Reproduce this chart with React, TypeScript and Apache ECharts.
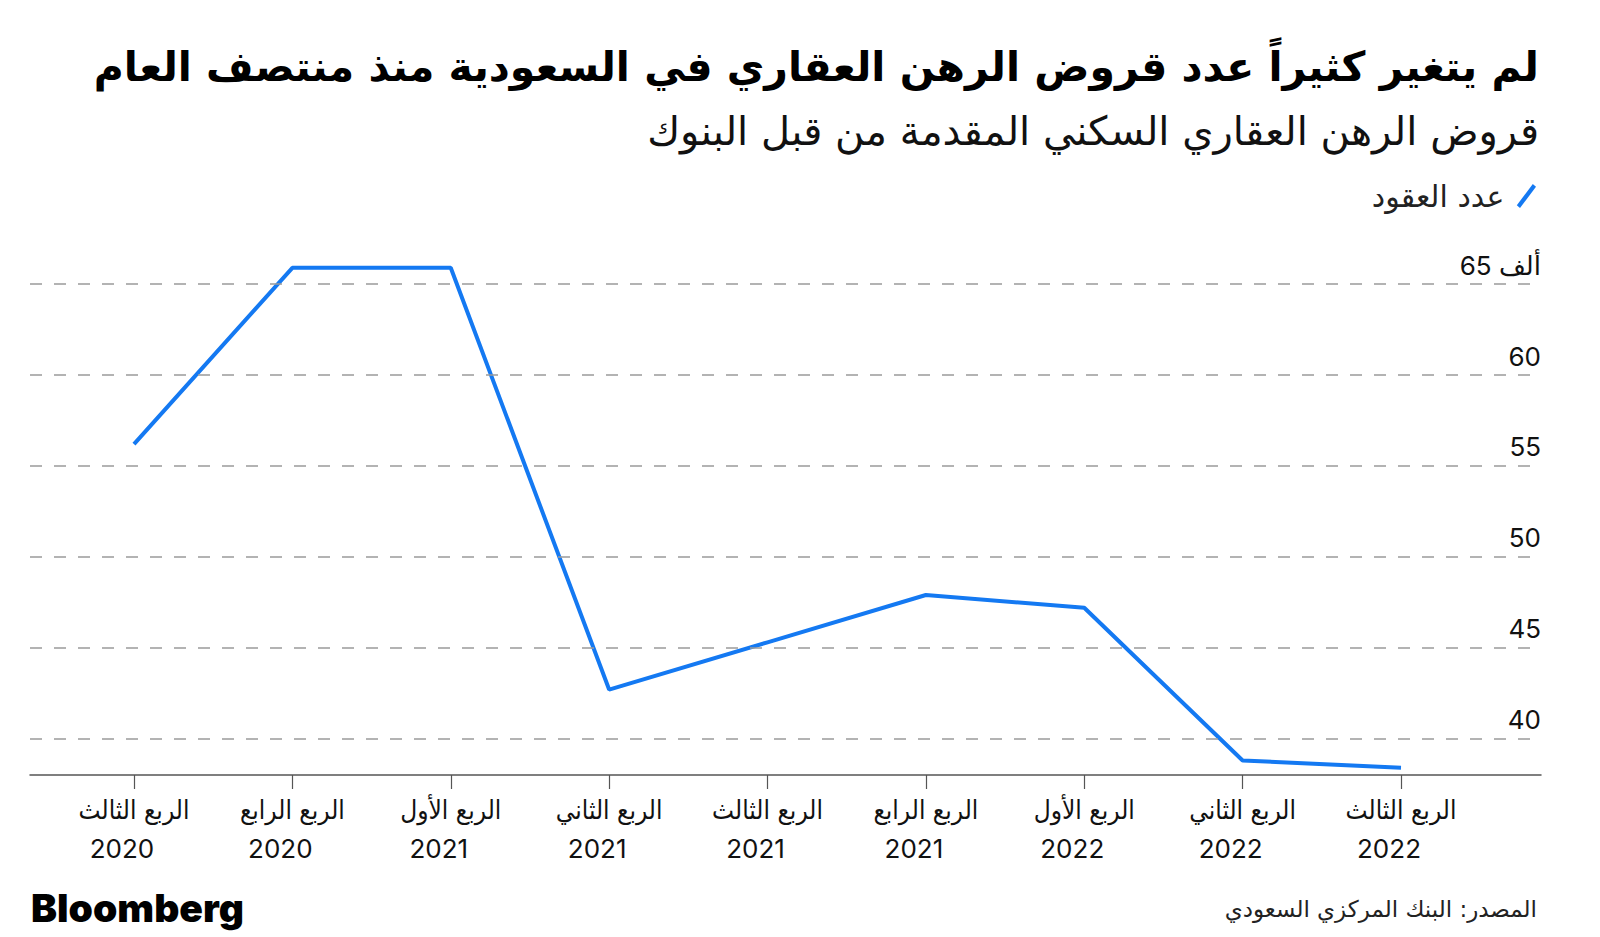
import React, { useEffect, useRef } from 'react';
import * as echarts from 'echarts';

const titleText = 'لم يتغير كثيراً عدد قروض الرهن العقاري في السعودية منذ منتصف العام';
const subtitleText = 'قروض الرهن العقاري السكني المقدمة من قبل البنوك';
const seriesName = 'عدد العقود';
const sourceText = 'المصدر: البنك المركزي السعودي';
const quarters = ['الربع الثالث', 'الربع الرابع', 'الربع الأول', 'الربع الثاني', 'الربع الثالث', 'الربع الرابع', 'الربع الأول', 'الربع الثاني', 'الربع الثالث'];
const years = ['2020', '2020', '2021', '2021', '2021', '2021', '2022', '2022', '2022'];
const contracts = [56.2, 65.9, 65.9, 42.7, 45.3, 47.9, 47.2, 38.8, 38.4];
const yTicks = [40, 45, 50, 55, 60, 65];
const topTickUnit = 'ألف';

const AR = "Inter, 'DejaVu Sans', sans-serif";
const AR_SANS = "'DejaVu Sans', sans-serif";
const AR_COND = "'DejaVu Sans Condensed', 'DejaVu Sans', sans-serif";

export default function App() {
  const ref = useRef<HTMLDivElement>(null);
  useEffect(() => {
    document.body.style.margin = '0';
    const chart = echarts.init(ref.current!, undefined, { renderer: 'svg' });
    const categories = quarters.map((q, i) => q + '|' + years[i]);
    const gridTop = 266;
    const gridBottom = 162;
    chart.setOption({
      animation: false,
      backgroundColor: '#ffffff',
      title: [
        {
          text: titleText,
          right: 56,
          top: 41,
          textStyle: { fontFamily: AR_SANS, fontSize: 41, fontWeight: 'bold', color: '#000' },
        },
        {
          text: subtitleText,
          right: 56,
          top: 106,
          textStyle: { fontFamily: AR_SANS, fontSize: 40, fontWeight: 'normal', color: '#111' },
        },
        {
          text: sourceText,
          right: 58,
          top: 892,
          textStyle: { fontFamily: AR_SANS, fontSize: 23, fontWeight: 'normal', color: '#222' },
        },
        {
          text: 'Bloomberg',
          left: 26,
          top: 883,
          textStyle: { fontFamily: 'Inter, sans-serif', fontSize: 39, fontWeight: 900, color: '#000', letterSpacing: -1.5 },
        },
      ],
      legend: {
        right: 59,
        top: 176,
        align: 'right',
        icon: 'path://M0,20 L15,0 L18,2.5 L3,22.5 Z',
        itemWidth: 20,
        itemHeight: 24,
        itemGap: 10,
        textStyle: { fontFamily: AR_SANS, fontSize: 30, color: '#222', padding: [0, 7, 0, 0] },
        data: [seriesName],
      },
      grid: [
        { left: 30, right: 59, top: gridTop, bottom: gridBottom },
        { left: 134, right: 199, top: gridTop, bottom: gridBottom },
      ],
      xAxis: [
        {
          gridIndex: 0,
          type: 'value',
          min: 0,
          max: 1,
          axisLine: { show: true, onZero: false, lineStyle: { color: '#555', width: 1.5 } },
          axisTick: { show: false },
          axisLabel: { show: false },
          splitLine: { show: false },
        },
        {
          gridIndex: 1,
          type: 'category',
          data: categories,
          boundaryGap: false,
          axisLine: { show: false },
          axisTick: { show: true, length: 14, lineStyle: { color: '#555', width: 1.2 } },
          axisLabel: {
            interval: 0,
            margin: 16,
            align: 'center',
            formatter: (v: string) => {
              const [q, y] = v.split('|');
              return '{q|' + q + '}\n{y|' + y + '}';
            },
            rich: {
              q: { fontFamily: AR_COND, fontSize: 26, lineHeight: 38, color: '#111', align: 'center' },
              y: { fontFamily: 'Inter, sans-serif', fontSize: 26, lineHeight: 38, color: '#111', align: 'center', padding: [0, 24, 0, 0] },
            },
          },
          splitLine: { show: false },
        },
      ],
      yAxis: [
        {
          gridIndex: 0,
          type: 'value',
          position: 'right',
          min: 38,
          max: 66,
          minInterval: 5,
          maxInterval: 5,
          axisLine: { show: false },
          axisTick: { show: false },
          splitLine: { show: false },
          axisLabel: {
            inside: true,
            margin: 0,
            align: 'right',
            verticalAlign: 'bottom',
            padding: [0, 0, 6, 0],
            fontFamily: AR,
            fontSize: 26,
            color: '#111',
            showMinLabel: false,
            showMaxLabel: false,
            formatter: (v: number) => {
              if (!yTicks.includes(v)) return '';
              return v === yTicks[yTicks.length - 1] ? v + ' ' + topTickUnit : String(v);
            },
          },
        },
        {
          gridIndex: 1,
          type: 'value',
          min: 38,
          max: 66,
          show: false,
          splitLine: { show: false },
        },
      ],
      series: [
        {
          type: 'line',
          xAxisIndex: 0,
          yAxisIndex: 0,
          data: [],
          silent: true,
          markLine: {
            silent: true,
            symbol: 'none',
            label: { show: false },
            lineStyle: { type: [12, 12], color: '#9a9a9a', width: 1.5 },
            data: yTicks.map((v) => ({ yAxis: v })),
          },
        },
        {
          name: seriesName,
          type: 'line',
          xAxisIndex: 1,
          yAxisIndex: 1,
          data: contracts,
          symbol: 'none',
          lineStyle: { color: '#1479F2', width: 4 },
          itemStyle: { color: '#1479F2' },
        },
      ],
    });
    return () => chart.dispose();
  }, []);
  return <div ref={ref} style={{ width: 1600, height: 937 }} />;
}
